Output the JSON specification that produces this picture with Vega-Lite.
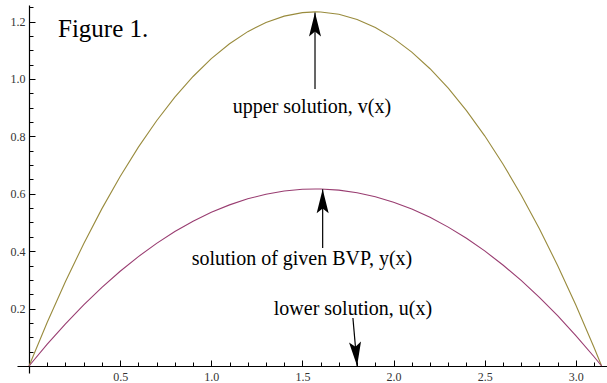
{
  "$schema": "https://vega.github.io/schema/vega-lite/v6.json",
  "width": 590,
  "height": 368,
  "autosize": "none",
  "padding": {"left": 17, "top": 5, "right": 0, "bottom": 10},
  "background": "white",
  "config": {"view": {"stroke": null}},
  "resolve": {"axis": {"x": "independent", "y": "independent"}},
  "datasets": {
    "curves": [
      {"x": 0, "v": 0, "y": 0},
      {"x": 0.1, "v": 0.1521, "y": 0.0760},
      {"x": 0.2, "v": 0.2942, "y": 0.1471},
      {"x": 0.3, "v": 0.4262, "y": 0.2131},
      {"x": 0.4, "v": 0.5483, "y": 0.2742},
      {"x": 0.5, "v": 0.6604, "y": 0.3302},
      {"x": 0.6, "v": 0.7625, "y": 0.3812},
      {"x": 0.7, "v": 0.8546, "y": 0.4273},
      {"x": 0.8, "v": 0.9366, "y": 0.4683},
      {"x": 0.9, "v": 1.0087, "y": 0.5044},
      {"x": 1.0, "v": 1.0708, "y": 0.5354},
      {"x": 1.1, "v": 1.1229, "y": 0.5614},
      {"x": 1.2, "v": 1.1650, "y": 0.5825},
      {"x": 1.3, "v": 1.1970, "y": 0.5985},
      {"x": 1.4, "v": 1.2191, "y": 0.6096},
      {"x": 1.5, "v": 1.2312, "y": 0.6156},
      {"x": 1.5708, "v": 1.2337, "y": 0.6169},
      {"x": 1.6, "v": 1.2333, "y": 0.6166},
      {"x": 1.7, "v": 1.2254, "y": 0.6127},
      {"x": 1.8, "v": 1.2074, "y": 0.6037},
      {"x": 1.9, "v": 1.1795, "y": 0.5898},
      {"x": 2.0, "v": 1.1416, "y": 0.5708},
      {"x": 2.1, "v": 1.0937, "y": 0.5468},
      {"x": 2.2, "v": 1.0357, "y": 0.5179},
      {"x": 2.3, "v": 0.9678, "y": 0.4839},
      {"x": 2.4, "v": 0.8899, "y": 0.4450},
      {"x": 2.5, "v": 0.8020, "y": 0.4010},
      {"x": 2.6, "v": 0.7041, "y": 0.3520},
      {"x": 2.7, "v": 0.5961, "y": 0.2981},
      {"x": 2.8, "v": 0.4782, "y": 0.2391},
      {"x": 2.9, "v": 0.3503, "y": 0.1752},
      {"x": 3.0, "v": 0.2124, "y": 0.1062},
      {"x": 3.1, "v": 0.0645, "y": 0.0322},
      {"x": 3.1416, "v": 0, "y": 0}
    ],
    "arrows": [
      {"name": "upper", "x": 1.569, "y": 0.965, "x2": 1.569, "y2": 1.232, "dir": "up"},
      {"name": "bvp", "x": 1.611, "y": 0.411, "x2": 1.611, "y2": 0.616, "dir": "up"},
      {"name": "lower", "x": 1.777, "y": 0.167, "x2": 1.8, "y2": 0, "dir": "down"}
    ],
    "labels": [
      {"text": "upper solution, v(x)", "x": 1.552, "y": 0.8815},
      {"text": "solution of given BVP, y(x)", "x": 1.4975, "y": 0.352},
      {"text": "lower solution, u(x)", "x": 1.777, "y": 0.178}
    ],
    "title": [
      {"text": "Figure 1.", "x": 0.159, "y": 1.146}
    ]
  },
  "layer": [
    {
      "data": {"name": "curves"},
      "mark": {"type": "line", "color": "#998b3d", "strokeWidth": 1.1},
      "encoding": {
        "x": {
          "field": "x", "type": "quantitative",
          "scale": {"domain": [-0.066, 3.171], "nice": false, "zero": false},
          "axis": {
            "title": null, "grid": false,
            "values": [0.5, 1.0, 1.5, 2.0, 2.5, 3.0],
            "format": ".1f",
            "tickSize": -6,
            "offset": -7,
            "domainColor": "black", "domainWidth": 1.2,
            "tickColor": "black", "tickWidth": 1,
            "labelFont": "Liberation Serif", "labelFontSize": 12, "labelColor": "#333333",
            "labelPadding": 11, "labelFlush": false, "labelOverlap": false
          }
        },
        "y": {
          "field": "v", "type": "quantitative",
          "scale": {"domain": [-0.0244, 1.2578], "nice": false, "zero": false},
          "axis": {
            "title": null, "grid": false,
            "values": [0.2, 0.4, 0.6, 0.8, 1.0, 1.2],
            "format": ".1f",
            "tickSize": -6,
            "offset": -12,
            "domainColor": "black", "domainWidth": 1.2,
            "tickColor": "black", "tickWidth": 1,
            "labelFont": "Liberation Serif", "labelFontSize": 12, "labelColor": "#333333",
            "labelPadding": 10, "labelFlush": false, "labelOverlap": false
          }
        }
      }
    },
    {
      "data": {"name": "curves"},
      "mark": {"type": "line", "color": "#993d71", "strokeWidth": 1.1},
      "encoding": {
        "x": {
          "field": "x", "type": "quantitative",
          "axis": {
            "title": null, "grid": false, "orient": "bottom",
            "values": [0.1,0.2,0.3,0.4,0.6,0.7,0.8,0.9,1.1,1.2,1.3,1.4,1.6,1.7,1.8,1.9,2.1,2.2,2.3,2.4,2.6,2.7,2.8,2.9,3.1],
            "labels": false, "domain": false,
            "tickSize": -4, "offset": -7,
            "tickColor": "black", "tickWidth": 1
          }
        },
        "y": {
          "field": "y", "type": "quantitative",
          "axis": {
            "title": null, "grid": false, "orient": "left",
            "values": [0.05,0.1,0.15,0.25,0.3,0.35,0.45,0.5,0.55,0.65,0.7,0.75,0.85,0.9,0.95,1.05,1.1,1.15,1.25],
            "labels": false, "domain": false,
            "tickSize": -4, "offset": -12,
            "tickColor": "black", "tickWidth": 1
          }
        }
      }
    },
    {
      "data": {"name": "arrows"},
      "mark": {"type": "rule", "color": "black", "strokeWidth": 1.2},
      "encoding": {
        "x": {"field": "x", "type": "quantitative", "axis": null},
        "y": {"field": "y", "type": "quantitative", "axis": null},
        "x2": {"field": "x2"},
        "y2": {"field": "y2"}
      }
    },
    {
      "data": {"name": "arrows"},
      "transform": [{"filter": "datum.dir === 'up'"}],
      "mark": {"type": "point", "shape": "M0,0L0.5,2L0,1.6L-0.5,2Z", "filled": true, "color": "black", "opacity": 1, "size": 576, "strokeWidth": 0},
      "encoding": {
        "x": {"field": "x2", "type": "quantitative", "axis": null},
        "y": {"field": "y2", "type": "quantitative", "axis": null}
      }
    },
    {
      "data": {"name": "arrows"},
      "transform": [{"filter": "datum.dir === 'down'"}],
      "mark": {"type": "point", "shape": "M0,0L0.5,-2L0,-1.6L-0.5,-2Z", "filled": true, "color": "black", "opacity": 1, "size": 576, "strokeWidth": 0, "angle": 355},
      "encoding": {
        "x": {"field": "x2", "type": "quantitative", "axis": null},
        "y": {"field": "y2", "type": "quantitative", "axis": null}
      }
    },
    {
      "data": {"name": "labels"},
      "mark": {"type": "text", "font": "Liberation Serif", "fontSize": 20, "color": "black", "align": "center", "baseline": "alphabetic"},
      "encoding": {
        "x": {"field": "x", "type": "quantitative", "axis": null},
        "y": {"field": "y", "type": "quantitative", "axis": null},
        "text": {"field": "text"}
      }
    },
    {
      "data": {"name": "title"},
      "mark": {"type": "text", "font": "Liberation Serif", "fontSize": 25, "color": "black", "align": "left", "baseline": "alphabetic"},
      "encoding": {
        "x": {"field": "x", "type": "quantitative", "axis": null},
        "y": {"field": "y", "type": "quantitative", "axis": null},
        "text": {"field": "text"}
      }
    }
  ]
}
